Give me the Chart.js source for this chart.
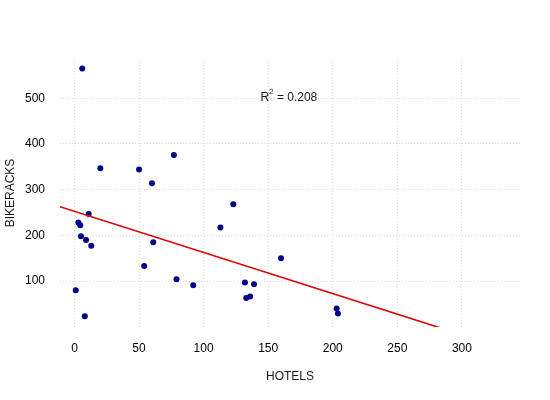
<!DOCTYPE html>
<html>
<head>
<meta charset="utf-8">
<script src="https://cdn.jsdelivr.net/npm/chart.js@4/dist/chart.umd.min.js"></script>
<style>
  html, body { margin: 0; padding: 0; background: #ffffff; }
  #wrap { width: 550px; height: 400px; }
</style>
</head>
<body>
<div id="wrap"><canvas id="c" width="550" height="400"></canvas></div>
<script>
// ---- data ----
const hotels    = [6, 20, 50, 77, 60, 11, 3, 4.5, 5, 9, 13, 61, 54, 79, 92, 113, 123, 1, 8, 160, 132, 139, 133, 136, 203, 204];
const bikeracks = [565, 347, 344, 376, 314, 247, 228, 222, 198, 190, 177, 185, 133, 104, 91, 217, 268, 80, 23, 150, 97, 93, 63, 66, 40, 29];
const fitIntercept = 252.5;   // fitted line
const fitSlope = -0.9;
const r2Text = "0.208";
const r2Pos = [166, 503];      // annotation position (data units)
const xTicks = [0, 50, 100, 150, 200, 250, 300];
const yTicks = [100, 200, 300, 400, 500];
const xRange = [-11.2, 345];
const yRange = [-0.6, 586];
const xTitle = "HOTELS";
const yTitle = "BIKERACKS";

const FONT = "'Liberation Sans', Arial, sans-serif";
const points = hotels.map((h, i) => ({ x: h, y: bikeracks[i] }));
const fitLine = xRange.map(x => ({ x: x, y: fitIntercept + fitSlope * x }));

const r2Plugin = {
  id: 'r2',
  afterDatasetsDraw(chart) {
    const ctx = chart.ctx;
    const xs = chart.scales.x, ys = chart.scales.y;
    const cx = xs.getPixelForValue(r2Pos[0]);
    const cy = ys.getPixelForValue(r2Pos[1]);
    ctx.save();
    ctx.fillStyle = '#1a1a1a';
    ctx.textBaseline = 'alphabetic';
    ctx.textAlign = 'left';
    const big = '12px ' + FONT, small = '8px ' + FONT;
    ctx.font = big; const wR = ctx.measureText('R').width;
    ctx.font = small; const w2 = ctx.measureText('2').width;
    ctx.font = big; const wRest = ctx.measureText(' = ' + r2Text).width;
    const total = wR + w2 + wRest;
    let x = cx - total / 2;
    const base = cy + 4.5;
    ctx.font = big; ctx.fillText('R', x, base); x += wR;
    ctx.font = small; ctx.fillText('2', x, base - 7); x += w2;
    ctx.font = big; ctx.fillText(' = ' + r2Text, x, base);
    ctx.restore();
  }
};

new Chart(document.getElementById('c'), {
  type: 'scatter',
  data: {
    datasets: [
      {
        type: 'line',
        data: fitLine,
        borderColor: '#e00000',
        borderWidth: 1.6,
        pointRadius: 0,
        fill: false,
        tension: 0
      },
      {
        data: points,
        backgroundColor: '#00008b',
        borderColor: '#00008b',
        pointRadius: 3,
        borderWidth: 0
      }
    ]
  },
  options: {
    responsive: false,
    animation: false,
    events: [],
    layout: { padding: { left: 0, right: 30, top: 59, bottom: 12 } },
    plugins: { legend: { display: false }, tooltip: { enabled: false } },
    scales: {
      x: {
        type: 'linear',
        min: xRange[0], max: xRange[1],
        afterBuildTicks: s => { s.ticks = xTicks.map(v => ({ value: v })); },
        afterFit: s => { s.height = 61; },
        grid: { color: '#dcdcdc', drawTicks: false, lineWidth: 1 },
        border: { display: false, dash: [1, 2] },
        ticks: { padding: 14, color: '#000000', font: { family: FONT, size: 12 }, maxRotation: 0 },
        title: { display: true, text: xTitle, color: '#1a1a1a', font: { family: FONT, size: 12 }, padding: { top: 4, bottom: 4 } }
      },
      y: {
        type: 'linear',
        min: yRange[0], max: yRange[1],
        afterBuildTicks: s => { s.ticks = yTicks.map(v => ({ value: v })); },
        afterFit: s => { s.width = 60; },
        grid: { color: '#dcdcdc', drawTicks: false, lineWidth: 1 },
        border: { display: false, dash: [1, 2] },
        ticks: { padding: 15, color: '#000000', font: { family: FONT, size: 12 } },
        title: { display: true, text: yTitle, color: '#1a1a1a', font: { family: FONT, size: 12 }, padding: { top: 3, bottom: 4 } }
      }
    }
  },
  plugins: [r2Plugin]
});
</script>
</body>
</html>
